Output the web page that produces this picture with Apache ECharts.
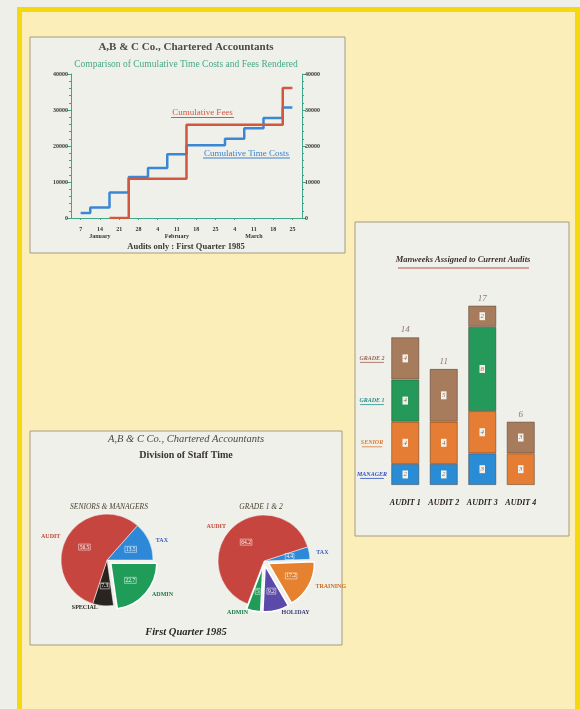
<!DOCTYPE html>
<html><head><meta charset="utf-8">
<script src="https://cdn.jsdelivr.net/npm/echarts@6/dist/echarts.min.js"></script>
<style>html,body{margin:0;padding:0;background:#efefe9}#c{width:580px;height:709px}</style>
</head><body><div id="c"></div>
<script>
// ---- Chart 1: cumulative costs vs fees ----
const weeks = ['7','14','21','28','4','11','18','25','4','11','18','25'];
const months = ['','January','','','','February','','','','March','',''];
const timeCosts = [1400,2900,7100,11400,13900,17700,20200,20200,22000,24900,27800,30700];
const fees = [null,null,0,10900,10900,10900,25900,25900,25900,25900,25900,36100];

// ---- Chart 2: manweeks ----
const audits = ['AUDIT 1','AUDIT 2','AUDIT 3','AUDIT 4'];
const manager = [2,2,3,0];
const senior = [4,4,4,3];
const grade1 = [4,0,8,0];
const grade2 = [4,5,2,3];
const totals = [14,11,17,6];
const gradeLabels = ['MANAGER','SENIOR','GRADE 1','GRADE 2'];

// ---- Chart 3: division of staff time ----
const seniorNames = ['TAX','ADMIN','SPECIAL','AUDIT'];
const seniorValues = [13.5,22.7,7.3,56.5];
const seniorExploded = ['ADMIN'];
const gradeNames = ['TAX','TRAINING','HOLIDAY','ADMIN','AUDIT'];
const gradeValues = [4.4,17.2,9.2,5.0,64.2];
const gradeExploded = ['TRAINING','HOLIDAY','ADMIN'];

const SERIF = "'Liberation Serif','DejaVu Serif',serif";
const teal = '#3fa58b';
const pieColors = {AUDIT:'#c6463f',TAX:'#2d88d8',ADMIN:'#1f9c58',SPECIAL:'#2a2420',TRAINING:'#e5812f',HOLIDAY:'#5c4aaa'};
const pieLabelColors = {AUDIT:'#c04838',TAX:'#3a62c0',ADMIN:'#1a7a48',SPECIAL:'#2a2a20',TRAINING:'#d06a20',HOLIDAY:'#3a3a80'};
const barColors = ['#2b8cd6','#e57e34','#24995a','#a67c5d'];
const legendColors = ['#3252c0','#e07830','#1f908a','#a06050'];

function txt(x,y,text,font,fill){
  return {type:'text', x:x, y:y, z:100, silent:true,
    style:{text:text, font:font, fill:fill, align:'center', verticalAlign:'middle', textAlign:'center', textVerticalAlign:'middle'}};
}
function uline(x1,x2,y,stroke,w){
  return {type:'line', z:100, silent:true, shape:{x1:x1,y1:y,x2:x2,y2:y}, style:{stroke:stroke, lineWidth:w||1}};
}
function panel(x,y,w,h){
  return {type:'rect', z:0, silent:true, shape:{x:x,y:y,width:w,height:h}, style:{fill:'#f0f0ea', stroke:'#a49c80', lineWidth:1}};
}

// bar grid geometry
const bg = {left:386, top:274, width:154, height:211, max:20};
const stacks = [manager, senior, grade1, grade2];
const legendGraphics = [];
let cum = 0;
stacks.forEach((arr,k)=>{
  const mid = cum + arr[0]/2; cum += arr[0];
  const y = bg.top + bg.height*(1 - mid/bg.max);
  legendGraphics.push(txt(372, y, gradeLabels[k], "italic bold 6px "+SERIF, legendColors[k]));
  const w = gradeLabels[k].length*3.4;
  legendGraphics.push(uline(372-w/2, 372+w/2, y+4, legendColors[k], 0.8));
});

function pieData(names, values, exploded, overlay){
  return names.map((n,i)=>({
    name:n, value:values[i], selected: exploded.includes(n),
    itemStyle: overlay ? {color:'rgba(0,0,0,0)', borderWidth:0} :
      {color:pieColors[n], borderColor:'#ffffff', borderWidth: exploded.includes(n)?1.5:0.5},
    label: overlay ? {color:pieLabelColors[n]} : {}
  }));
}
function pieSeries(center, startAngle, names, values, exploded){
  return [{
    type:'pie', center:center, radius:46, startAngle:startAngle, clockwise:true,
    selectedMode:'multiple', selectedOffset:5, z:2,
    emphasis:{scale:false}, silent:true,
    label:{show:true, position:'inside', formatter:'{c}', color:'#fff', fontSize:5.5, fontFamily:SERIF,
      borderColor:'#fff', borderWidth:0.5, padding:[0,1]},
    labelLine:{show:false},
    data: pieData(names, values, exploded, false)
  },{
    type:'pie', center:center, radius:46, startAngle:startAngle, clockwise:true,
    selectedMode:'multiple', selectedOffset:5, z:3,
    emphasis:{scale:false}, silent:true,
    label:{show:true, position:'outside', formatter:'{b}', fontSize:6, fontWeight:'bold', fontFamily:SERIF},
    labelLine:{show:false, length:2, length2:0},
    data: pieData(names, values, exploded, true)
  }];
}

const yAxisLabel = {fontSize:6, fontWeight:'bold', fontFamily:SERIF, color:'#3a3a30', margin:3, formatter:v=>String(v)};

const chart = echarts.init(document.getElementById('c'));
const option = {
  backgroundColor:'#efefe9',
  animation:false,
  graphic:[
    {type:'rect', z:0, silent:true, shape:{x:19.5,y:9.5,width:558,height:720}, style:{fill:'#fbeeb8', stroke:'#f6d80e', lineWidth:5}},
    panel(30,37,315,216),
    panel(355,222,214,314),
    panel(30,431,312,214),
    // chart 1 texts
    txt(186,47,'A,B & C Co., Chartered Accountants',"bold 11px "+SERIF,'#4b4b46'),
    txt(186,64,'Comparison of Cumulative Time Costs and Fees Rendered',"9.5px "+SERIF,'#45a888'),
    txt(186,247,'Audits only : First Quarter 1985',"bold 8.5px "+SERIF,'#3a3a34'),
    txt(202.5,113,'Cumulative Fees',"9px "+SERIF,'#d05a48'),
    uline(171,234,117.5,'#d05a48',1),
    txt(246.5,154,'Cumulative Time Costs',"9px "+SERIF,'#3a80cc'),
    uline(203,290,158,'#3a80cc',1),
    // chart 2 texts
    txt(463,260,'Manweeks Assigned to Current Audits',"italic bold 8.5px "+SERIF,'#3a3030'),
    uline(398,529,268,'#c05040',1),
    // chart 3 texts
    txt(186,439,'A,B & C Co., Chartered Accountants',"italic 10.5px "+SERIF,'#4a4a46'),
    txt(186,455,'Division of Staff Time',"bold 10px "+SERIF,'#3a3530'),
    txt(109,507,'SENIORS & MANAGERS',"italic 7.5px "+SERIF,'#4a4430'),
    txt(261,507,'GRADE 1 & 2',"italic 7.5px "+SERIF,'#4a4430'),
    txt(186,632,'First Quarter 1985',"italic bold 10.5px "+SERIF,'#2a2a24')
  ].concat(legendGraphics),
  grid:[
    {left:71, top:74, width:231, height:144},
    {left:bg.left, top:bg.top, width:bg.width, height:bg.height}
  ],
  xAxis:[
    {type:'category', gridIndex:0, data:weeks, boundaryGap:true,
      axisLine:{lineStyle:{color:teal, width:1}},
      axisTick:{show:true, alignWithLabel:true, length:2, lineStyle:{color:teal}},
      axisLabel:{interval:0, fontSize:6, fontWeight:'bold', fontFamily:SERIF, color:'#333', margin:8,
        formatter:(v,i)=> months[i] ? v+'\n{m|'+months[i]+'}' : v,
        rich:{m:{fontSize:6, fontWeight:'bold', fontFamily:SERIF, color:'#333', lineHeight:9}}},
      splitLine:{show:false}},
    {type:'category', gridIndex:1, data:audits,
      axisLine:{show:false}, axisTick:{show:false},
      axisLabel:{interval:0, fontSize:8, fontWeight:'bold', fontStyle:'italic', fontFamily:SERIF, color:'#2a2420', margin:14}}
  ],
  yAxis:[
    {type:'value', gridIndex:0, position:'left', min:0, max:40000, interval:10000,
      axisLine:{show:true, lineStyle:{color:teal}}, axisTick:{show:true, length:4, lineStyle:{color:teal}},
      minorTick:{show:true, splitNumber:5, length:2, lineStyle:{color:teal}},
      splitLine:{show:false}, axisLabel:yAxisLabel},
    {type:'value', gridIndex:0, position:'right', min:0, max:40000, interval:10000,
      axisLine:{show:true, lineStyle:{color:teal}}, axisTick:{show:true, length:4, lineStyle:{color:teal}},
      minorTick:{show:true, splitNumber:5, length:2, lineStyle:{color:teal}},
      splitLine:{show:false}, axisLabel:yAxisLabel},
    {type:'value', gridIndex:1, min:0, max:bg.max, show:false}
  ],
  series:[
    {type:'line', name:'Cumulative Time Costs', xAxisIndex:0, yAxisIndex:0, step:'middle', data:timeCosts,
      showSymbol:false, lineStyle:{color:'#3b87d4', width:2.5}, itemStyle:{color:'#3b87d4'}, z:3, silent:true},
    {type:'line', name:'Cumulative Fees', xAxisIndex:0, yAxisIndex:0, step:'middle', data:fees,
      showSymbol:false, lineStyle:{color:'#d2573f', width:2.5}, itemStyle:{color:'#d2573f'}, z:4, silent:true}
  ].concat(stacks.map((arr,k)=>({
      type:'bar', name:gradeLabels[k], xAxisIndex:1, yAxisIndex:2, stack:'a', barWidth:28,
      data: arr.map(v=> v===0 ? '-' : v), silent:true,
      itemStyle:{color:barColors[k], borderColor:'rgba(60,40,30,0.55)', borderWidth:0.8},
      label:{show:true, position:'inside', fontSize:7, fontStyle:'italic', fontFamily:SERIF, color:'#7a7570',
        backgroundColor:'#f6f1e8', padding:[1,1,0,1]}
    }))).concat([{
      type:'bar', name:'total', xAxisIndex:1, yAxisIndex:2, stack:'a', barWidth:28, silent:true,
      data: totals.map(()=>0), itemStyle:{color:'rgba(0,0,0,0)'},
      label:{show:true, position:'top', distance:3, formatter:p=>String(totals[p.dataIndex]),
        fontSize:9, fontStyle:'italic', fontFamily:SERIF, color:'#8a7868'}
    }])
    .concat(pieSeries([107,560], 48.5, seniorNames, seniorValues, seniorExploded))
    .concat(pieSeries([264,561], 18, gradeNames, gradeValues, gradeExploded))
};
chart.setOption(option);
</script></body></html>
